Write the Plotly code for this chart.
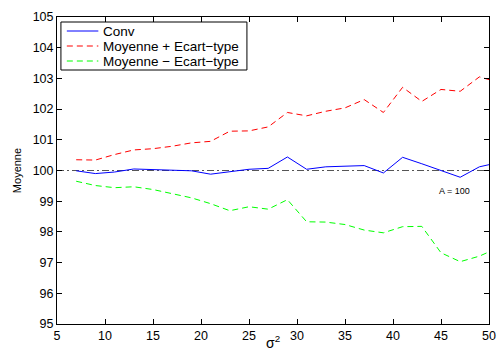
import plotly.graph_objects as go

# sigma^2 values (odd steps, last one runs past the axis end)
sigma2 = [7, 9, 11, 13, 15, 17, 19, 21, 23, 25, 27, 29, 31, 33, 35, 37, 39, 41, 43, 45, 47, 49, 51]

conv = [99.99, 99.90, 99.95, 100.05, 100.03, 100.00, 99.99, 99.88, 99.95, 100.04, 100.07, 100.44,
        100.04, 100.12, 100.14, 100.16, 99.92, 100.43, 100.22, 100.00, 99.78, 100.12, 100.26]

moy_plus = [100.35, 100.34, 100.52, 100.67, 100.71, 100.79, 100.90, 100.95, 101.28, 101.29, 101.42, 101.89,
            101.78, 101.93, 102.04, 102.31, 101.89, 102.71, 102.25, 102.64, 102.58, 103.05, 102.87]

moy_minus = [99.65, 99.51, 99.44, 99.47, 99.38, 99.25, 99.11, 98.92, 98.69, 98.82, 98.74, 99.05,
             98.33, 98.32, 98.24, 98.06, 97.97, 98.17, 98.18, 97.32, 97.03, 97.21, 97.49]

A = 100
x_ticks = [5, 10, 15, 20, 25, 30, 35, 40, 45, 50]
y_ticks = [95, 96, 97, 98, 99, 100, 101, 102, 103, 104, 105]

series_names = ["Conv", "Moyenne + Ecart\u2212type", "Moyenne \u2212 Ecart\u2212type"]
series_colors = ["#0000ff", "#ff0000", "#00ff00"]
series_dash = ["solid", "6px,4px", "6px,4px"]

font = "Liberation Sans, Arial, sans-serif"

# plot area in pixels, used to place the hand-drawn legend box
L, R, T, B = 57, 496, 17, 324
W, H = R - L, B - T


def px(x):
    return (x - L) / W


def py(y):
    return 1 - (y - T) / H


fig = go.Figure()

# reference level A
fig.add_trace(go.Scatter(
    x=[5, 50], y=[A, A], mode="lines", showlegend=False,
    line=dict(color="#555555", width=1.2, dash="7px,3px,2px,3px"),
))

for name, vals, col, dash in zip(series_names, [conv, moy_plus, moy_minus], series_colors, series_dash):
    fig.add_trace(go.Scatter(
        x=sigma2, y=vals, mode="lines", name=name, showlegend=False,
        line=dict(color=col, width=1, dash=dash),
    ))

# legend box
fig.add_shape(type="rect", xref="paper", yref="paper",
              x0=px(61), x1=px(250), y0=py(70), y1=py(22),
              line=dict(color="black", width=1), fillcolor="white", layer="above")
for i, (name, col, dash) in enumerate(zip(series_names, series_colors, series_dash)):
    yy = 31 + 15 * i
    fig.add_shape(type="line", xref="paper", yref="paper",
                  x0=px(67), x1=px(99), y0=py(yy), y1=py(yy),
                  line=dict(color=col, width=1, dash=dash), layer="above")
    fig.add_annotation(xref="paper", yref="paper", x=px(102), y=py(yy),
                       xanchor="left", yanchor="middle", text=name, showarrow=False,
                       font=dict(size=13.5, color="black", family=font))

fig.add_annotation(x=46.4, y=99.34, text="A = 100", showarrow=False,
                   font=dict(size=9, color="black", family=font))

fig.add_annotation(xref="paper", yref="paper", x=px(16), y=0.5, xanchor="center",
                   text="Moyenne", textangle=-90, showarrow=False,
                   font=dict(size=11, color="black", family=font))

fig.add_annotation(xref="paper", yref="paper", x=px(276), y=py(342), xanchor="center",
                   yanchor="middle", text="\u03c3<sup>2</sup>", showarrow=False,
                   font=dict(size=14, color="black", family=font))

axis_common = dict(
    showgrid=False, zeroline=False, showline=True, linecolor="black", linewidth=1,
    mirror="ticks", ticks="inside", ticklen=5, tickcolor="black", tickwidth=1,
    tickfont=dict(size=12.5, color="black", family=font),
)

fig.update_xaxes(range=[5, 50], tickvals=x_ticks, ticktext=[str(v) for v in x_ticks], **axis_common)
fig.update_yaxes(range=[95, 105], tickvals=y_ticks, ticktext=[str(v) for v in y_ticks], **axis_common)

fig.update_layout(
    width=503, height=352,
    margin=dict(l=L, r=503 - R, t=T, b=352 - B),
    plot_bgcolor="white", paper_bgcolor="white",
    font=dict(family=font, color="black"),
    showlegend=False,
)

fig.write_html("out.html")
